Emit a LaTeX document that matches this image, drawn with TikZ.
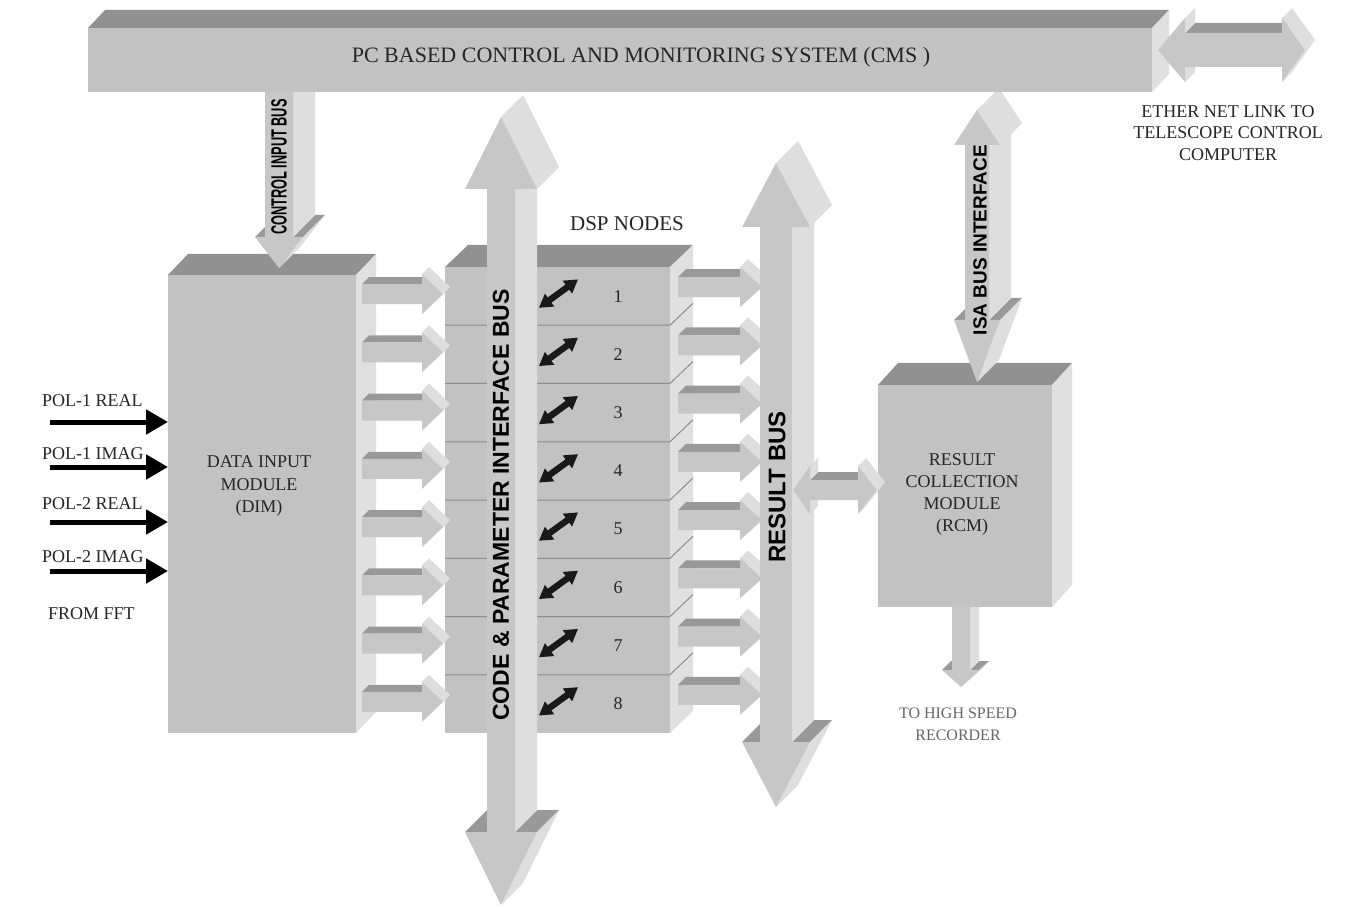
\documentclass[tikz,border=0pt]{standalone}
\usepackage{fontspec}
\setmainfont{Liberation Serif}
\setsansfont{Liberation Sans}
\usepackage{graphicx}
\usetikzlibrary{arrows.meta}
\definecolor{frontc}{gray}{0.76}
\definecolor{topc}{gray}{0.57}
\definecolor{sidec}{gray}{0.88}
\definecolor{arrc}{gray}{0.78}
\definecolor{arrside}{gray}{0.87}
\definecolor{arrtop}{gray}{0.60}
\definecolor{linec}{gray}{0.55}
\definecolor{txtc}{gray}{0.15}
% 3D box: x1,y1,x2,y2,dx,dy(up)
\newcommand{\boxDD}[6]{%
  \fill[topc] (#1,#2) -- (#1+#5,#2-#6) -- (#3+#5,#2-#6) -- (#3,#2) -- cycle;
  \fill[sidec] (#3,#2) -- (#3+#5,#2-#6) -- (#3+#5,#4-#6) -- (#3,#4) -- cycle;
  \fill[frontc] (#1,#2) rectangle (#3,#4);}
% right arrow: x0,yc,xs,xt,h,H,d
\newcommand{\rarrD}[7]{%
  \fill[arrside] (#4,#2) -- (#3,#2+#6) -- (#3+#7,#2+#6-#7) -- (#4+#7,#2-#7) -- cycle;
  \fill[arrtop] (#1,#2-#5) -- (#3,#2-#5) -- (#3+#7,#2-#5-#7) -- (#1+#7,#2-#5-#7) -- cycle;
  \fill[arrside] (#3,#2-#6) -- (#4,#2) -- (#4+#7,#2-#7) -- (#3+#7,#2-#6-#7) -- cycle;
  \fill[arrc] (#1,#2-#5) -- (#3,#2-#5) -- (#3,#2-#6) -- (#4,#2) -- (#3,#2+#6) -- (#3,#2+#5) -- (#1,#2+#5) -- cycle;}
% horizontal double arrow: xL,yc,xsL,xsR,xR,h,H,d
\newcommand{\hdarrD}[8]{%
  \fill[arrside] (#5,#2) -- (#4,#2+#7) -- (#4+#8,#2+#7-#8) -- (#5+#8,#2-#8) -- cycle;
  \fill[arrtop] (#3,#2-#6) -- (#4,#2-#6) -- (#4+#8,#2-#6-#8) -- (#3+#8,#2-#6-#8) -- cycle;
  \fill[arrside] (#3,#2-#7) -- (#3,#2-#6) -- (#3+#8,#2-#6-#8) -- (#3+#8,#2-#7-#8) -- cycle;
  \fill[arrside] (#3,#2+#6) -- (#3,#2+#7) -- (#3+#8,#2+#7-#8) -- (#3+#8,#2+#6-#8) -- cycle;
  \fill[arrside] (#4,#2-#7) -- (#5,#2) -- (#5+#8,#2-#8) -- (#4+#8,#2-#7-#8) -- cycle;
  \fill[arrc] (#1,#2) -- (#3,#2-#7) -- (#3,#2-#6) -- (#4,#2-#6) -- (#4,#2-#7) -- (#5,#2) -- (#4,#2+#7) -- (#4,#2+#6) -- (#3,#2+#6) -- (#3,#2+#7) -- cycle;}
% vertical double arrow: xc,yTT,ysT,ysB,yBT,w,H,d
\newcommand{\vdarrD}[8]{%
  \fill[arrtop] (#1+#6,#4) -- (#1+#7,#4) -- (#1+#7+#8,#4-#8) -- (#1+#6+#8,#4-#8) -- cycle;
  \fill[arrtop] (#1-#7,#4) -- (#1-#6,#4) -- (#1-#6+#8,#4-#8) -- (#1-#7+#8,#4-#8) -- cycle;
  \fill[arrside] (#1+#6,#3) -- (#1+#6,#4) -- (#1+#6+#8,#4-#8) -- (#1+#6+#8,#3-#8) -- cycle;
  \fill[arrside] (#1,#2) -- (#1+#7,#3) -- (#1+#7+#8,#3-#8) -- (#1+#8,#2-#8) -- cycle;
  \fill[arrside] (#1+#7,#4) -- (#1,#5) -- (#1+#8,#5-#8) -- (#1+#7+#8,#4-#8) -- cycle;
  \fill[arrc] (#1,#2) -- (#1+#7,#3) -- (#1+#6,#3) -- (#1+#6,#4) -- (#1+#7,#4) -- (#1,#5) -- (#1-#7,#4) -- (#1-#6,#4) -- (#1-#6,#3) -- (#1-#7,#3) -- cycle;}
% down arrow: xc,y0,ysB,yBT,w,H,d
\newcommand{\dnarrD}[7]{%
  \fill[arrtop] (#1+#5,#3) -- (#1+#6,#3) -- (#1+#6+#7,#3-#7) -- (#1+#5+#7,#3-#7) -- cycle;
  \fill[arrtop] (#1-#6,#3) -- (#1-#5,#3) -- (#1-#5+#7,#3-#7) -- (#1-#6+#7,#3-#7) -- cycle;
  \fill[arrside] (#1+#5,#2) -- (#1+#5,#3) -- (#1+#5+#7,#3-#7) -- (#1+#5+#7,#2-#7) -- cycle;
  \fill[arrside] (#1+#6,#3) -- (#1,#4) -- (#1+#7,#4-#7) -- (#1+#6+#7,#3-#7) -- cycle;
  \fill[arrc] (#1-#5,#2) -- (#1+#5,#2) -- (#1+#5,#3) -- (#1+#6,#3) -- (#1,#4) -- (#1-#6,#3) -- (#1-#5,#3) -- cycle;}
\tikzset{
  lbl/.style={font=\fontsize{18}{21.7}\selectfont, align=center, inner sep=0pt, text=txtc},
  vbold/.style={rotate=90, inner sep=0pt, text=black, font=\sffamily\bfseries},
  inarr/.style={line width=5pt, black, -{Triangle[length=22pt,width=24pt]}},
  dblfill/.style={fill=black!90}
}
\begin{document}
\begin{tikzpicture}[x=1pt,y=-1pt]
\fill[white] (0,0) rectangle (1358,909);
\useasboundingbox (0,0) rectangle (1358,909);

% Data input module
\boxDD{168}{275}{356}{733}{20}{21}
% control input bus
\dnarrD{279}{92}{237}{268}{14}{24}{22}
% DSP stack
\boxDD{445}{267}{670}{733}{23}{22}
\foreach \k in {1,...,7}{
  \draw[linec, line width=1pt] (445,267+\k*58.25) -- (670,267+\k*58.25) -- (693,245+\k*58.25);
}
% arrows DIM -> DSP and DSP -> result bus
\foreach \k in {0,...,7}{
  \pgfmathsetmacro{\rc}{296.1+\k*58.25}
  \rarrD{362}{\rc-2}{422}{443}{10}{20}{7}
  \rarrD{678}{\rc-9}{740}{762}{10}{20}{8}
}
% code & parameter interface bus
\vdarrD{501}{117}{189}{832}{905}{14}{36}{22}
% result bus
\vdarrD{776}{163}{227}{742}{807}{16}{34}{22}
% recorder arrow
\dnarrD{961}{607}{670}{687}{9}{19}{9}
% RCM
\boxDD{878}{385}{1052}{607}{20}{22}
% result bus <-> RCM
\hdarrD{793}{490}{810}{858}{877}{10}{24}{8}
% ISA bus interface
\vdarrD{977}{110}{145}{320}{382}{12}{23}{22}
% CMS bar
\boxDD{88}{28}{1152}{92}{17}{18}
% ether link
\hdarrD{1158}{50}{1185}{1282}{1305}{17}{32}{10}

% black double arrows in DSP rows and numbers
\foreach \k in {1,...,8}{
  \pgfmathsetmacro{\rc}{296.1+(\k-1)*58.25}
  \begin{scope}[shift={(558.5,\rc-2.5)}, rotate=36]
    \fill[dblfill] (-24,0) -- (-11,-8) -- (-11,-3.2) -- (11,-3.2) -- (11,-8) -- (24,0) -- (11,8) -- (11,3.2) -- (-11,3.2) -- (-11,8) -- cycle;
  \end{scope}
  \node[lbl] (n\k) at (618,\rc) {\k};
}

% input arrows
\foreach \y/\n in {422/1,467/2,522/3,571/4}{
  \coordinate (is\n) at (50,\y);
  \coordinate (ie\n) at (168,\y);
  \draw[inarr] (is\n) -- (ie\n);
}

% texts
\node[lbl, font=\fontsize{22}{24}\selectfont] (cms) at (641,57) {PC BASED CONTROL AND MONITORING SYSTEM (CMS )};
\node[lbl] (eth) at (1228,133) {ETHER NET LINK TO\\TELESCOPE CONTROL\\COMPUTER};
\node[lbl, font=\fontsize{18}{22.5}\selectfont] (dimt) at (259,486) {DATA INPUT\\MODULE\\(DIM)};
\node[lbl] (rcmt) at (962,494.5) {RESULT\\COLLECTION\\MODULE\\(RCM)};
\node[lbl, font=\fontsize{21}{24}\selectfont] (dspn) at (627,224) {DSP NODES};
\node[lbl, font=\fontsize{16}{22}\selectfont, text=black!60] (rec) at (958,724) {TO HIGH SPEED\\RECORDER};
\node[lbl, anchor=west] (p1r) at (42,401) {POL-1 REAL};
\node[lbl, anchor=west] (p1i) at (42,454) {POL-1 IMAG};
\node[lbl, anchor=west] (p2r) at (42,504) {POL-2 REAL};
\node[lbl, anchor=west] (p2i) at (42,557) {POL-2 IMAG};
\node[lbl, anchor=west] (fft) at (48,614) {FROM FFT};

\node[vbold, font=\sffamily\bfseries\fontsize{23}{23}\selectfont] (cpib) at (501,505) {CODE \& PARAMETER INTERFACE BUS};
\node[vbold, font=\sffamily\bfseries\fontsize{24}{24}\selectfont] (rbus) at (777,487) {RESULT BUS};
\node[vbold, font=\sffamily\bfseries\fontsize{19}{19}\selectfont] (isab) at (980,240) {ISA BUS INTERFACE};
\node[vbold] (cib) at (279,167) {\scalebox{0.58}[1]{\fontsize{22}{22}\selectfont\sffamily\bfseries CONTROL INPUT BUS}};
\end{tikzpicture}
\end{document}
